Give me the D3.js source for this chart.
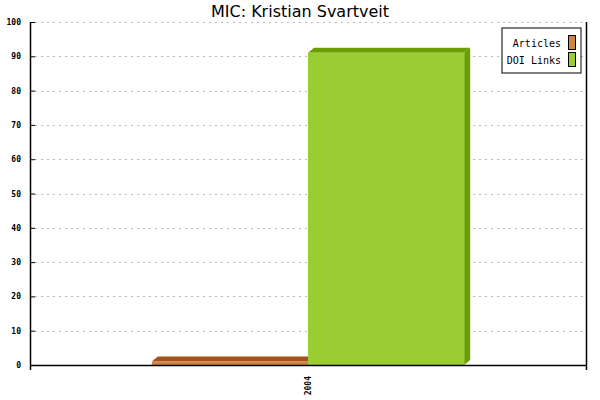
<!DOCTYPE html>
<html>
<head>
<meta charset="utf-8">
<script src="https://cdn.jsdelivr.net/npm/d3@7"></script>
<style>
  body { margin: 0; background: #fff; }
  .tick text { font-family: "DejaVu Sans Mono", monospace; font-size: 8px; font-weight: bold; }
</style>
</head>
<body>
<div class="chart"></div>
<script>
const years = ['2004']
const seriesNames = ['Articles', 'DOI Links']
const articles = [1]
const doiLinks = [91]
const yTicks = [0, 10, 20, 30, 40, 50, 60, 70, 80, 90, 100]

const frontColors = ['#cd853f', '#9acd32']
const topColors = ['#a0521d', '#6b9e00']

function drawChart (container) {
  const fullWidth = 600
  const fullHeight = 400
  const margin = { top: 22, right: 14, bottom: 35, left: 30 }
  const width = fullWidth - margin.left - margin.right
  const height = fullHeight - margin.top - margin.bottom
  const depthX = 6
  const depthY = 5

  const svg = d3.select(container)
    .append('svg')
      .attr('width', fullWidth)
      .attr('height', fullHeight)

  svg.append('text')
    .attr('x', fullWidth / 2)
    .attr('y', 17)
    .attr('text-anchor', 'middle')
    .style('font-family', '"DejaVu Sans", sans-serif')
    .style('font-size', '16px')
    .text('MIC: Kristian Svartveit')

  const g = svg.append('g')
    .attr('transform', `translate(${margin.left}, ${margin.top})`)

  const yScale = d3.scaleLinear().domain([0, 100]).range([height, 0])
  const xScale = d3.scaleBand().domain(years).range([0, width]).paddingInner(0).paddingOuter(0.39)
  const xInner = d3.scaleBand().domain(seriesNames).range([0, xScale.bandwidth()])

  // grid
  g.selectAll('.grid')
    .data(yTicks.filter(d => d > 0))
    .enter()
      .append('line')
      .attr('x1', 5)
      .attr('x2', width)
      .attr('y1', d => Math.round(yScale(d)) + 0.5)
      .attr('y2', d => Math.round(yScale(d)) + 0.5)
      .attr('stroke', '#bbb')
      .attr('stroke-dasharray', '2,4')

  // bars
  const data = years.map((y, i) => ({ year: y, values: [articles[i], doiLinks[i]] }))
  data.forEach(d => {
    d.values.forEach((v, s) => {
      const x0 = xScale(d.year) + xInner(seriesNames[s])
      const w = xInner.bandwidth()
      const y0 = yScale(v)
      const h = height - y0
      const bg = g.append('g')
      // top face
      bg.append('polygon')
        .attr('points', [[x0, y0], [x0 + depthX, y0 - depthY], [x0 + w + depthX, y0 - depthY], [x0 + w, y0]].join(' '))
        .attr('fill', topColors[s])
      // side face
      bg.append('polygon')
        .attr('points', [[x0 + w, y0], [x0 + w + depthX, y0 - depthY], [x0 + w + depthX, height - depthY], [x0 + w, height]].join(' '))
        .attr('fill', topColors[s])
      // front face
      bg.append('rect')
        .attr('x', x0)
        .attr('y', y0)
        .attr('width', w)
        .attr('height', h)
        .attr('fill', frontColors[s])
    })
  })

  // axes
  const yAxis = d3.axisLeft(yScale).tickValues(yTicks).tickSize(5).tickPadding(4)
  const yG = g.append('g').call(yAxis)
  yG.select('.domain').remove()
  yG.selectAll('.tick line').attr('x2', 5).attr('stroke', '#000')
  g.append('line')
    .attr('x1', 0.5).attr('x2', 0.5)
    .attr('y1', 0).attr('y2', height + 5)
    .attr('stroke', '#000').attr('stroke-width', 1.5)
  g.append('line')
    .attr('x1', width + 0.5).attr('x2', width + 0.5)
    .attr('y1', 0).attr('y2', height + 5)
    .attr('stroke', '#000').attr('stroke-width', 1.5)
  g.append('line')
    .attr('x1', 0).attr('x2', width)
    .attr('y1', height + 0.5).attr('y2', height + 0.5)
    .attr('stroke', '#000').attr('stroke-width', 1.5)

  const xAxis = d3.axisBottom(xScale).tickSize(0).tickPadding(0)
  const xG = g.append('g')
    .attr('transform', `translate(0, ${height})`)
    .call(xAxis)
  xG.select('.domain').remove()
  xG.selectAll('text')
    .attr('transform', 'rotate(-90)')
    .attr('x', -11)
    .attr('y', 0)
    .attr('dy', '0.32em')
    .style('text-anchor', 'end')

  // legend
  const legend = svg.append('g').attr('transform', 'translate(502, 28)')
  legend.append('rect')
    .attr('width', 79)
    .attr('height', 45)
    .attr('fill', '#fff')
    .attr('stroke', '#000')
  seriesNames.forEach((name, i) => {
    const ly = 7 + i * 17
    legend.append('text')
      .attr('x', 59)
      .attr('y', ly + 8)
      .attr('dy', '0.35em')
      .attr('text-anchor', 'end')
      .style('font-family', '"DejaVu Sans Mono", monospace')
      .style('font-size', '10px')
      .text(name)
    legend.append('rect')
      .attr('x', 66.5)
      .attr('y', ly + 0.5)
      .attr('width', 7)
      .attr('height', 14)
      .attr('fill', frontColors[i])
      .attr('stroke', '#000')
  })

  return svg
}

drawChart('.chart')
</script>
</body>
</html>
